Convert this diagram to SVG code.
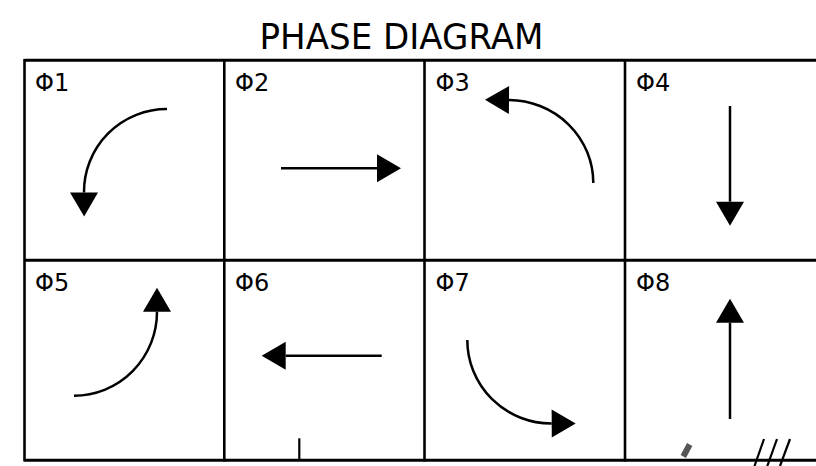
<svg xmlns="http://www.w3.org/2000/svg" width="816" height="466" viewBox="0 0 816 466">
  <style>
    .grid { stroke: #000; stroke-width: 2.6; fill: none; }
    .hgrid { stroke: #000; stroke-width: 3; fill: none; }
    .lbl { font-family: "DejaVu Sans", Verdana, sans-serif; font-size: 24px; fill: #000; }
    .title { font-family: "DejaVu Sans", Verdana, sans-serif; font-size: 35px; fill: #000; }
    .arr { stroke: #000; stroke-width: 2.5; fill: none; marker-end: url(#head); }
    .tick { stroke: #000; stroke-width: 2.2; fill: none; }
  </style>
  <defs>
    <marker id="head" markerUnits="userSpaceOnUse" markerWidth="24" markerHeight="28" refX="0" refY="14" orient="auto" overflow="visible">
      <path d="M0,0 L24,14 L0,28 Z" fill="#000"/>
    </marker>
  </defs>
  <rect width="816" height="466" fill="#fff"/>

  <text id="title" class="title" x="401.5" y="49" text-anchor="middle" textLength="284" lengthAdjust="spacingAndGlyphs">PHASE DIAGRAM</text>

  <g id="grid">
    <line class="hgrid" x1="24.5" y1="60.3" x2="816" y2="60.3"/>
    <line class="hgrid" x1="24.5" y1="260.3" x2="816" y2="260.3"/>
    <line class="hgrid" x1="24.5" y1="460.3" x2="816" y2="460.3"/>
    <line class="grid" x1="24.5" y1="59" x2="24.5" y2="461.5"/>
    <line class="grid" x1="224.3" y1="59" x2="224.3" y2="461.5"/>
    <line class="grid" x1="424.5" y1="59" x2="424.5" y2="461.5"/>
    <line class="grid" x1="625" y1="59" x2="625" y2="461.5"/>
  </g>

  <g id="phase1">
    <text class="lbl" x="35" y="91">Φ1</text>
  </g>
  <g id="phase2">
    <text class="lbl" x="235" y="91">Φ2</text>
  </g>
  <g id="phase3">
    <text class="lbl" x="435.5" y="91">Φ3</text>
  </g>
  <g id="phase4">
    <text class="lbl" x="636" y="91">Φ4</text>
  </g>
  <g id="phase5">
    <text class="lbl" x="35" y="291">Φ5</text>
  </g>
  <g id="phase6">
    <text class="lbl" x="235" y="291">Φ6</text>
  </g>
  <g id="phase7">
    <text class="lbl" x="435.5" y="291">Φ7</text>
  </g>
  <g id="phase8">
    <text class="lbl" x="636" y="291">Φ8</text>
  </g>

  <g id="arrows">
    <path id="a1" class="arr" d="M167,109 A83,83 0 0 0 84,192.5"/>
    <path id="a2" class="arr" d="M281,168.3 L377,168.3"/>
    <path id="a3" class="arr" d="M593.3,183 A85,83 0 0 0 509,100"/>
    <path id="a4" class="arr" d="M730,106 L730,201.7"/>
    <path id="a5" class="arr" d="M74,395.7 A83,84 0 0 0 157,311.7"/>
    <path id="a6" class="arr" d="M381.7,355.7 L285.7,355.7"/>
    <path id="a7" class="arr" d="M467.3,340 A84,83.5 0 0 0 551.7,423.5"/>
    <path id="a8" class="arr" d="M730,419 L730,322.7"/>
  </g>

  <g id="marks">
    <line class="tick" x1="299.3" y1="438.3" x2="299.3" y2="460"/>
    <line x1="683.3" y1="456.5" x2="689.7" y2="444.5" stroke="#555" stroke-width="6"/>
    <line class="tick" x1="754.5" y1="466" x2="764" y2="439"/>
    <line class="tick" x1="767.3" y1="466" x2="777" y2="439"/>
    <line class="tick" x1="780" y1="466" x2="790" y2="439"/>
  </g>
</svg>
